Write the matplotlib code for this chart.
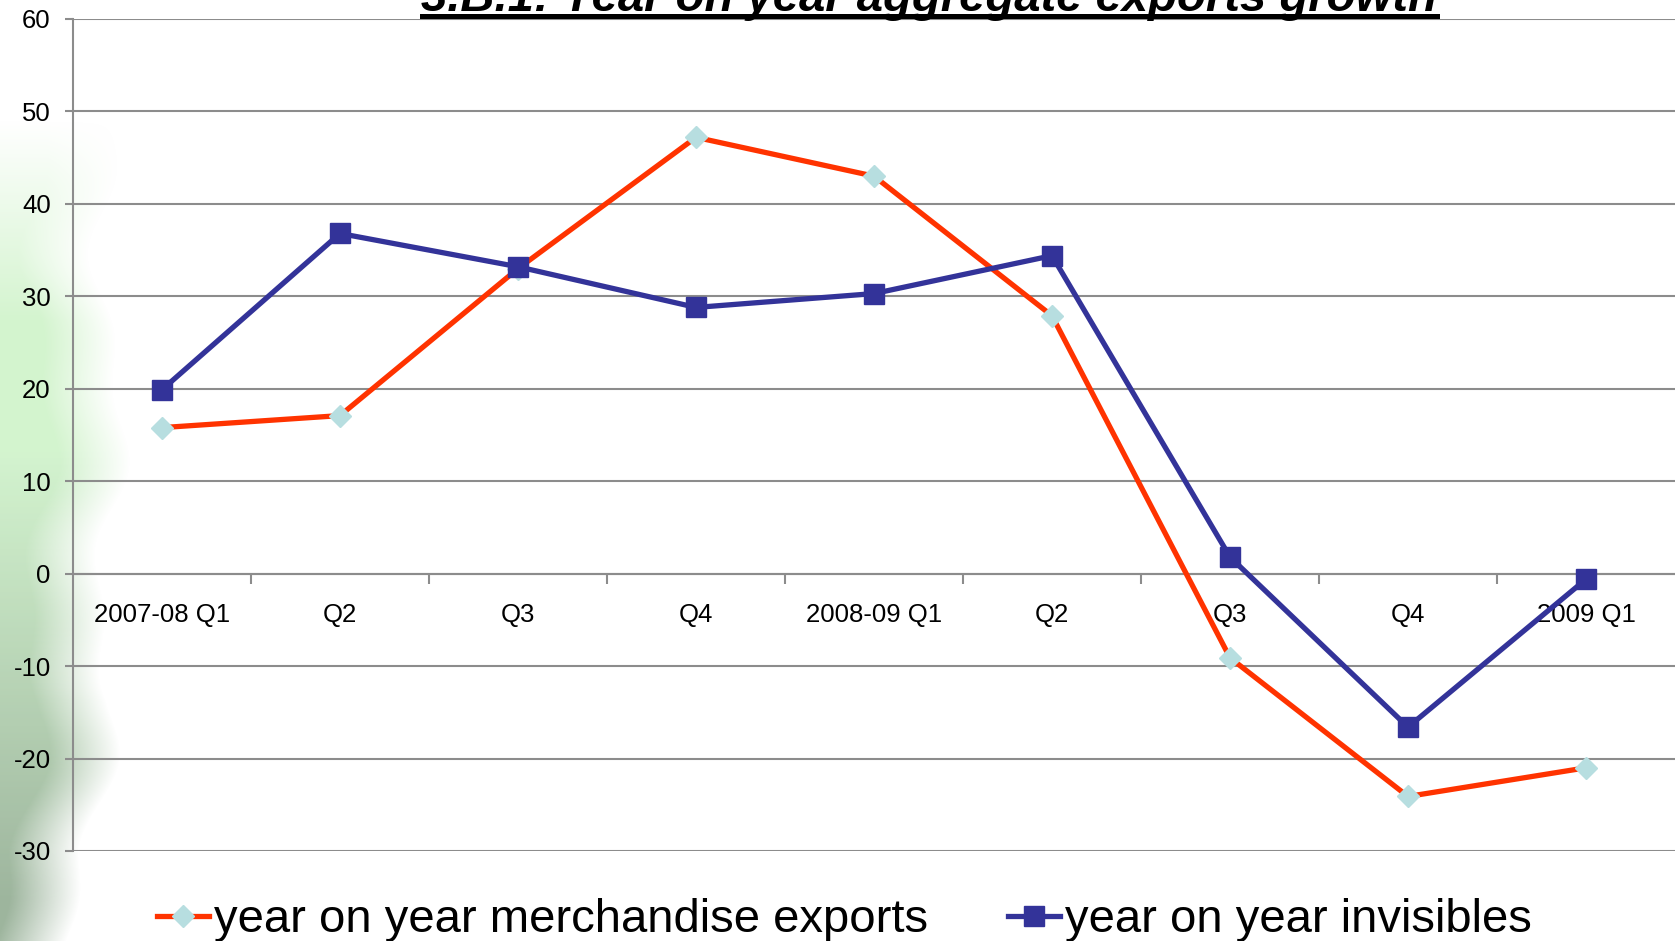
import numpy as np
import matplotlib
matplotlib.use("Agg")
import matplotlib.pyplot as plt
from matplotlib.lines import Line2D

plt.rcParams['font.family'] = ['Liberation Sans', 'DejaVu Sans']
plt.rcParams['axes.unicode_minus'] = False

quarters = ['2007-08 Q1', 'Q2', 'Q3', 'Q4', '2008-09 Q1', 'Q2', 'Q3', 'Q4', '2009 Q1']
merchandise = [15.8, 17.1, 33.0, 47.2, 43.0, 27.9, -9.1, -24.1, -21.0]
invisibles = [19.9, 36.8, 33.2, 28.8, 30.3, 34.4, 1.8, -16.6, -0.6]
title = '3.B.1: Year on year aggregate exports growth'

W, H = 1675, 941
fig = plt.figure(figsize=(W / 100, H / 100), dpi=100)

# soft green smudge on the left edge (background decoration)
yy, xx = np.mgrid[0:H, 0:W]
edge = 110 + 14 * np.sin(yy / 55.0) + 8 * np.sin(yy / 23.0) - 30 * np.clip((yy - 700) / 150.0, 0, 1)
a = np.clip((edge - xx) / 70.0, 0, 1)
vert = np.clip((yy - 120) / 200.0, 0, 1)
a = a * vert * 0.85
t = np.clip((yy - 450) / 450.0, 0, 1)[..., None]
light = np.array([0.80, 0.95, 0.78])
dark = np.array([0.55, 0.66, 0.55])
rgb = light * (1 - t) + dark * t
img = np.dstack([rgb[..., 0], rgb[..., 1], rgb[..., 2], a])
bg = fig.add_axes([0, 0, 1, 1], zorder=0)
bg.imshow(img, aspect='auto', extent=[0, W, H, 0])
bg.axis('off')

ax = fig.add_axes([73 / W, 1 - 851 / H, 1 - 73 / W, (851 - 19) / H], zorder=1)
ax.patch.set_alpha(0)
x = np.arange(len(quarters))
ax.plot(x, merchandise, color='#FF3300', lw=3.8, marker='D', ms=11,
        mfc='#B7DEE0', mec='#B7DEE0', label='year on year merchandise exports', zorder=3)
ax.plot(x, invisibles, color='#333399', lw=3.8, marker='s', ms=14,
        mfc='#333399', mec='#333399', label='year on year invisibles', zorder=4)

ax.set_xlim(-0.5, len(quarters) - 0.5)
ax.set_ylim(-30, 60)
ax.set_yticks(range(-30, 61, 10))
ax.yaxis.grid(True, color='#8C8C8C', lw=1.5)
ax.set_axisbelow(True)
for s in ['top', 'right']:
    ax.spines[s].set_visible(False)
ax.spines['left'].set_color('#8C8C8C')
ax.spines['left'].set_linewidth(1.5)
ax.spines['bottom'].set_position(('data', 0))
ax.spines['bottom'].set_color('#8C8C8C')
ax.spines['bottom'].set_linewidth(1.5)
ax.tick_params(axis='y', length=6, color='#8C8C8C', width=1.5, labelsize=18.5, pad=10)
ax.set_xticks(x)
ax.set_xticklabels(quarters)
ax.set_xticks(np.arange(0.5, len(quarters) - 0.5), minor=True)
ax.tick_params(axis='x', which='major', length=0, labelsize=18.5, pad=21)
ax.tick_params(axis='x', which='minor', length=7, color='#8C8C8C', width=1.5)

leg = fig.legend(loc='center', bbox_to_anchor=(0.504, 0.022), ncol=2, frameon=False,
                 fontsize=34, handlelength=1.1, handletextpad=0.1, columnspacing=1.7,
                 borderpad=0)

# title, partly cut off by the top edge as in the source slide
fig.text(929 / W, 1 - 11 / H, title, ha='center', va='baseline', fontsize=34,
         fontweight='bold', fontstyle='italic')
fig.add_artist(Line2D([422 / W, 1437 / W], [1 - 16 / H, 1 - 16 / H], color='black', lw=3.6))

fig.savefig('out.png', dpi=100)
